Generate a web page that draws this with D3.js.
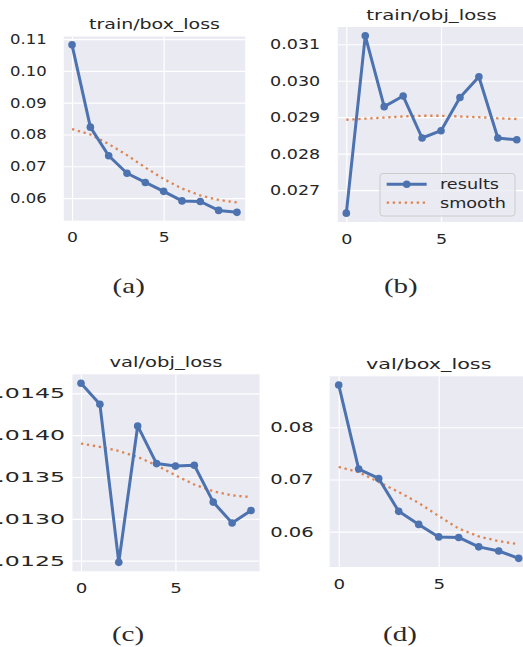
<!DOCTYPE html>
<html>
<head>
  <meta charset="UTF-8" />
  <title>loss curves</title>
  <script src="https://d3js.org/d3.v7.min.js"></script>
  <style>
    html, body { margin: 0; padding: 0; background: #fff; }
    svg { display: block; }
    .tick text { fill: #262626; font-family: "DejaVu Sans", sans-serif; font-size: 13.5px; }
    .grid line { stroke: #fff; stroke-width: 1.2px; }
    .grid path, .axis path { display: none; }
    .title { font-family: "DejaVu Sans", sans-serif; font-size: 14.5px; fill: #262626; text-anchor: middle; }
    .caption { font-family: "Liberation Serif", serif; font-size: 21.5px; fill: #2a2a2a; text-anchor: middle; }
    .legend-text { font-family: "DejaVu Sans", sans-serif; font-size: 14px; fill: #262626; }
  </style>
</head>
<body>
  <svg width="523" height="647"></svg>
  <script>
    const epochs = [0, 1, 2, 3, 4, 5, 6, 7, 8, 9];

    const trainBox = [0.1082, 0.0823, 0.0733, 0.0678, 0.0649, 0.0621, 0.0591, 0.0589, 0.0561, 0.0555];
    const trainBoxSmooth = [0.0817, 0.0800, 0.0770, 0.0735, 0.0696, 0.0660, 0.0630, 0.0608, 0.0594, 0.0586];

    const trainObj = [0.02637, 0.03123, 0.02929, 0.02958, 0.02843, 0.02863, 0.02954, 0.03011, 0.02843, 0.02838];
    const trainObjSmooth = [0.02893, 0.02896, 0.02899, 0.02902, 0.02904, 0.02904, 0.02902, 0.02900, 0.02897, 0.02895];

    const valObj = [0.01462, 0.01437, 0.01248, 0.01411, 0.01366, 0.01363, 0.01364, 0.01320, 0.01295, 0.01310];
    const valObjSmooth = [0.01390, 0.01386, 0.01381, 0.01374, 0.01364, 0.01352, 0.01341, 0.01333, 0.01328, 0.01326];

    const valBox = [0.0881, 0.0720, 0.0702, 0.0639, 0.0614, 0.0590, 0.0589, 0.0571, 0.0563, 0.0549];
    const valBoxSmooth = [0.0724, 0.0714, 0.0695, 0.0676, 0.0655, 0.0630, 0.0606, 0.0591, 0.0582, 0.0576];

    const xTicks = [0, 5];
    const trainBoxTicks = [0.06, 0.07, 0.08, 0.09, 0.10, 0.11];
    const trainObjTicks = [0.027, 0.028, 0.029, 0.030, 0.031];
    const valObjTicks = [0.0125, 0.0130, 0.0135, 0.0140, 0.0145];
    const valBoxTicks = [0.06, 0.07, 0.08];

    const titles = ["train/box_loss", "train/obj_loss", "val/obj_loss", "val/box_loss"];
    const captions = ["(a)", "(b)", "(c)", "(d)"];
    const legendLabels = ["results", "smooth"];

    const blue = "#4C72B0", orange = "#DD8452";

    // layout of the four panels; each sub-figure in the source is stretched sideways by its own amount
    const panels = [
      { title: titles[0], cap: captions[0], res: trainBox, sm: trainBoxSmooth, ticks: trainBoxTicks, fmt: ".2f",
        l: 63.8, r: 245.2, t: 36.5, b: 220.7, pad: 14, titleY: 29, capX: 128.7, capY: 293,
        sy: 1.22, sxTick: 1.27, st: 1.31 },
      { title: titles[1], cap: captions[1], res: trainObj, sm: trainObjSmooth, ticks: trainObjTicks, fmt: ".3f",
        l: 337.8, r: 525.3, t: 27, b: 222, pad: 13.5, titleY: 20, capX: 400.8, capY: 293,
        sy: 1.3, sxTick: 1.3, st: 1.36, legend: true },
      { title: titles[2], cap: captions[2], res: valObj, sm: valObjSmooth, ticks: valObjTicks, fmt: ".4f",
        l: 72.5, r: 259.5, t: 374.3, b: 571.3, pad: 4.3, titleY: 366.7, capX: 128, capY: 641,
        sy: 1.75, sxTick: 1.35, st: 1.35 },
      { title: titles[3], cap: captions[3], res: valBox, sm: valBoxSmooth, ticks: valBoxTicks, fmt: ".2f",
        l: 329.7, r: 527.7, t: 376.3, b: 567, pad: 11, titleY: 369.3, capX: 400, capY: 641,
        sy: 1.45, sxTick: 1.35, st: 1.43 }
    ];

    const svg = d3.select("svg");

    panels.forEach(p => {
      const g = svg.append("g");
      const xm = (d3.max(epochs) - d3.min(epochs)) * 0.05;
      const x = d3.scaleLinear().domain([d3.min(epochs) - xm, d3.max(epochs) + xm]).range([p.l, p.r]);
      const all = p.res.concat(p.sm);
      const lo = d3.min(all), hi = d3.max(all), m = (hi - lo) * 0.05;
      const y = d3.scaleLinear().domain([lo - m, hi + m]).range([p.b, p.t]);

      g.append("rect")
        .attr("x", p.l).attr("y", p.t)
        .attr("width", p.r - p.l).attr("height", p.b - p.t)
        .attr("fill", "#EAEAF2");

      g.append("g").attr("class", "grid")
        .attr("transform", `translate(0,${p.b})`)
        .call(d3.axisBottom(x).tickValues(xTicks).tickSize(-(p.b - p.t)).tickFormat(""));
      g.append("g").attr("class", "grid")
        .attr("transform", `translate(${p.l},0)`)
        .call(d3.axisLeft(y).tickValues(p.ticks).tickSize(-(p.r - p.l)).tickFormat(""));

      const ya = g.append("g").attr("class", "axis")
        .attr("transform", `translate(${p.l},0)`)
        .call(d3.axisLeft(y).tickValues(p.ticks).tickSize(0).tickPadding(p.pad).tickFormat(d3.format(p.fmt)));
      ya.selectAll("text").attr("transform", `scale(${p.sy},1)`);

      const xa = g.append("g").attr("class", "axis")
        .attr("transform", `translate(0,${p.b})`)
        .call(d3.axisBottom(x).tickValues(xTicks).tickSize(0).tickPadding(12).tickFormat(d3.format("d")));
      xa.selectAll("text").attr("transform", `scale(${p.sxTick},1)`);

      const line = d3.line().x((d, i) => x(epochs[i])).y(d => y(d));

      g.append("path").datum(p.sm)
        .attr("d", line)
        .attr("fill", "none")
        .attr("stroke", orange)
        .attr("stroke-width", 2.3)
        .attr("stroke-dasharray", "2.3,3.7");

      g.append("path").datum(p.res)
        .attr("d", line)
        .attr("fill", "none")
        .attr("stroke", blue)
        .attr("stroke-width", 3)
        .attr("stroke-linejoin", "round");

      g.selectAll("circle.pt").data(p.res).enter()
        .append("circle").attr("class", "pt")
        .attr("cx", (d, i) => x(epochs[i]))
        .attr("cy", d => y(d))
        .attr("r", 3.8)
        .attr("fill", blue);

      g.append("g")
        .attr("transform", `translate(${(p.l + p.r) / 2},${p.titleY}) scale(${p.st},1)`)
        .append("text").attr("class", "title").text(p.title);

      svg.append("g")
        .attr("transform", `translate(${p.capX},${p.capY}) scale(1.35,1)`)
        .append("text").attr("class", "caption").text(p.cap);

      if (p.legend) {
        const lg = g.append("g").attr("transform", "translate(380,173.5)");
        lg.append("rect")
          .attr("width", 135).attr("height", 42.5).attr("rx", 3)
          .attr("fill", "#EAEAF2").attr("fill-opacity", 0.8)
          .attr("stroke", "#cccccc").attr("stroke-width", 1);
        lg.append("line")
          .attr("x1", 6.7).attr("x2", 46.7).attr("y1", 10.8).attr("y2", 10.8)
          .attr("stroke", blue).attr("stroke-width", 3);
        lg.append("circle").attr("cx", 26.7).attr("cy", 10.8).attr("r", 3.8).attr("fill", blue);
        lg.append("line")
          .attr("x1", 6.7).attr("x2", 46.7).attr("y1", 29.2).attr("y2", 29.2)
          .attr("stroke", orange).attr("stroke-width", 2.3).attr("stroke-dasharray", "2.3,3.7");
        legendLabels.forEach((t, i) => {
          lg.append("g")
            .attr("transform", `translate(60,${15.5 + i * 18.5}) scale(1.26,1)`)
            .append("text").attr("class", "legend-text").text(t);
        });
      }
    });
  </script>
</body>
</html>
